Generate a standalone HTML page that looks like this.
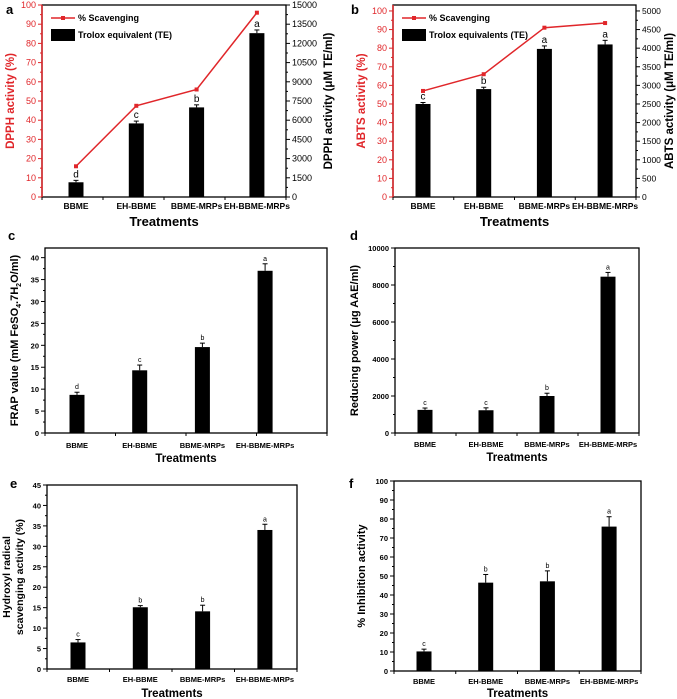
<!DOCTYPE html>
<html><head><meta charset="utf-8"><style>
html,body{margin:0;padding:0;background:#fff;}
svg{display:block;font-family:"Liberation Sans",Arial,sans-serif;}
</style></head><body>
<svg id="fig" width="677" height="699" viewBox="0 0 677 699" xmlns="http://www.w3.org/2000/svg"></svg>
<script>
const categories = ["BBME","EH-BBME","BBME-MRPs","EH-BBME-MRPs"];
// panel a
const aBars = [1150, 5750, 7000, 12800];
const aBarErr = [150, 180, 200, 250];
const aLine = [16, 47.5, 56, 96];
const aLetters = ["d","c","b","a"];
const aLeftTicks = [0,10,20,30,40,50,60,70,80,90,100];
const aRightTicks = [0,1500,3000,4500,6000,7500,9000,10500,12000,13500,15000];
// panel b
const bBars = [2500, 2900, 3980, 4100];
const bBarErr = [40, 50, 80, 110];
const bLine = [57, 66, 91, 93.5];
const bLetters = ["c","b","a","a"];
const bLeftTicks = [0,10,20,30,40,50,60,70,80,90,100];
const bRightTicks = [0,500,1000,1500,2000,2500,3000,3500,4000,4500,5000];
// panel c
const cBars = [8.7, 14.3, 19.6, 37];
const cErr = [0.6, 1.2, 0.9, 1.6];
const cLetters = ["d","c","b","a"];
const cTicks = [0,5,10,15,20,25,30,35,40];
// panel d
const dBars = [1250, 1230, 2000, 8450];
const dErr = [100, 130, 150, 230];
const dLetters = ["c","c","b","a"];
const dTicks = [0,2000,4000,6000,8000,10000];
// panel e
const eBars = [6.5, 15.1, 14.1, 34];
const eErr = [0.7, 0.4, 1.5, 1.4];
const eLetters = ["c","b","b","a"];
const eTicks = [0,5,10,15,20,25,30,35,40,45];
// panel f
const fBars = [10.3, 46.5, 47.2, 76];
const fErr = [1.2, 4.3, 5.5, 5.2];
const fLetters = ["c","b","b","a"];
const fTicks = [0,10,20,30,40,50,60,70,80,90,100];

const NS="http://www.w3.org/2000/svg";
const svg=document.getElementById('fig');
function mk(tag,attrs,parent){const e=document.createElementNS(NS,tag);for(const k in attrs)e.setAttribute(k,attrs[k]);(parent||svg).appendChild(e);return e;}
function txt(s,attrs,parent){const e=mk('text',attrs,parent);e.textContent=s;return e;}

function panel(p){
  const g=mk('g',{});
  
  
  const y=v=>p.y0-(v-p.min)/(p.max-p.min)*(p.y0-p.top);
  const yR=p.rmax?(v=>p.y0-v/p.rmax*(p.y0-p.top)):null;
  const x=i=>p.x0c+i*p.step;
  const fr=mk('rect',{x:p.left,y:p.top,width:p.right-p.left,height:p.y0-p.top,fill:'none',stroke:'#000','stroke-width':1.3},g);
  
  
  const lc=p.leftColor||'#000';
  if(p.leftColor){mk('line',{x1:p.left,y1:p.top,x2:p.left,y2:p.y0,stroke:lc,'stroke-width':1.5},g);}
  const ticks=p.ticks;
  ticks.forEach((t,k)=>{
    const yy=y(t);
    mk('line',{x1:p.left-4,y1:yy,x2:p.left,y2:yy,stroke:lc,'stroke-width':1},g);
    const tl=txt(String(t),{x:p.left-6,y:yy+3,'text-anchor':'end','font-size':p.tfs,'font-weight':p.tfw,fill:lc},g);
    
    
    if(k<ticks.length-1){const ym=y((t+ticks[k+1])/2);mk('line',{x1:p.left-2,y1:ym,x2:p.left,y2:ym,stroke:lc,'stroke-width':1},g);}
  });
  if(p.rticks){p.rticks.forEach((t,k)=>{
    const yy=yR(t);
    mk('line',{x1:p.right,y1:yy,x2:p.right+4,y2:yy,stroke:'#000','stroke-width':1},g);
    const tl=txt(String(t),{x:p.right+6,y:yy+3,'font-size':p.rtfs||p.tfs,fill:'#000'},g);
    
    
    if(k<p.rticks.length-1){const ym=yR((t+p.rticks[k+1])/2);mk('line',{x1:p.right,y1:ym,x2:p.right+2,y2:ym,stroke:'#000','stroke-width':1},g);}
  });}
  for(let i=0;i<=4;i++){const xx=p.left+(p.right-p.left)*i/4;mk('line',{x1:xx,y1:p.y0,x2:xx,y2:p.y0+3,stroke:'#000','stroke-width':1},g);}
  const bv=p.bars, sc=yR||y;
  categories.forEach((c,i)=>{
    const b=mk('rect',{x:x(i)-p.bw/2,y:sc(bv[i]),width:p.bw,height:p.y0-sc(bv[i]),fill:'#000'},g);
    
    
    const ye=sc(bv[i]+p.err[i]);
    mk('line',{x1:x(i),y1:sc(bv[i]),x2:x(i),y2:ye,stroke:'#000','stroke-width':1},g);
    mk('line',{x1:x(i)-2.5,y1:ye,x2:x(i)+2.5,y2:ye,stroke:'#000','stroke-width':1},g);
    const lt=txt(p.letters[i],{x:x(i),y:ye-3,'text-anchor':'middle','font-size':p.lfs,fill:'#000'},g);
    
    
    const xl=txt(c,{x:x(i),y:p.xly,'text-anchor':'middle','font-size':p.xfs,'font-weight':'bold'},g);
    
    
  });
  if(p.line){
    const pts=p.line.map((v,i)=>x(i)+','+y(v)).join(' ');
    const pl=mk('polyline',{points:pts,fill:'none',stroke:'#e0262a','stroke-width':1.5},g);
    
    
    p.line.forEach((v,i)=>{const m=mk('rect',{x:x(i)-2,y:y(v)-2,width:4,height:4,fill:'#e0262a'},g);
      
      });
    const lx=p.left+9;
    mk('line',{x1:lx,y1:18,x2:lx+24,y2:18,stroke:'#e0262a','stroke-width':1.5},g);
    mk('rect',{x:lx+10,y:16,width:4,height:4,fill:'#e0262a'},g);
    const l1=txt('% Scavenging',{x:lx+27,y:21,'font-size':9,'font-weight':'bold'},g);
    
    
    mk('rect',{x:lx,y:29,width:24,height:12,fill:'#000'},g);
    const l2=txt(p.legend2,{x:lx+27,y:38,'font-size':9,'font-weight':'bold'},g);
    
    
  }
  const xt=txt('Treatments',{x:(p.left+p.right)/2,y:p.xty,'text-anchor':'middle','font-size':p.xtfs,'font-weight':'bold'},g);
  
  
  const cy=(p.top+p.y0)/2;
  p.ytitle.forEach((ln,k)=>{
    const t=mk('text',{x:0,y:0,transform:`translate(${ln.x},${cy}) rotate(-90)`,'text-anchor':'middle','font-size':p.ytfs,'font-weight':'bold',fill:ln.color||'#000'},g);
    t.innerHTML=ln.html;
    
    
  });
  const pl=txt(p.id,{x:p.lab[0],y:p.lab[1],'font-size':13,'font-weight':'bold'},g);
  
  
}

panel({id:'a',left:42,right:286,top:5,y0:197,min:0,max:100,rmax:15000,ticks:aLeftTicks,rticks:aRightTicks,
  bars:aBars,err:aBarErr,letters:aLetters,line:aLine,legend2:'Trolox equivalent (TE)',leftColor:'#e0262a',
  x0c:76,step:60.3,bw:15,tfs:9,tfw:'normal',lfs:10,xfs:8.5,xly:209,xty:226,xtfs:13,ytfs:11.5,
  ytitle:[{x:14,html:'DPPH activity (%)',color:'#e0262a'},{x:332,html:'DPPH activity (μM TE/ml)'}],lab:[6,14]});
panel({id:'b',left:393,right:636,top:5,y0:197,min:0,max:103.2,rmax:5160,ticks:bLeftTicks,rticks:bRightTicks,
  bars:bBars,err:bBarErr,letters:bLetters,line:bLine,legend2:'Trolox equivalents (TE)',leftColor:'#e0262a',
  x0c:423,step:60.7,bw:15,tfs:9,rtfs:8.5,tfw:'normal',lfs:10,xfs:8.5,xly:209,xty:226,xtfs:13,ytfs:11.5,
  ytitle:[{x:365,html:'ABTS activity (%)',color:'#e0262a'},{x:673,html:'ABTS activity (μM TE/ml)'}],lab:[351,14]});
panel({id:'c',left:45,right:327,top:248,y0:433,min:0,max:42.2,ticks:cTicks,
  bars:cBars,err:cErr,letters:cLetters,x0c:77,step:62.7,bw:15,tfs:7.5,tfw:'bold',lfs:7,xfs:7.5,xly:448,xty:462,xtfs:11.5,ytfs:11,
  ytitle:[{x:18,html:'FRAP value (mM FeSO<tspan font-size="7" dy="3">4</tspan><tspan dy="-3">.7H</tspan><tspan font-size="7" dy="3">2</tspan><tspan dy="-3">O/ml)</tspan>'}],lab:[8,240]});
panel({id:'d',left:395,right:639,top:248,y0:433,min:0,max:10000,ticks:dTicks,
  bars:dBars,err:dErr,letters:dLetters,x0c:425,step:61,bw:15,tfs:7.5,tfw:'bold',lfs:7,xfs:7.5,xly:447,xty:461,xtfs:11.5,ytfs:11,
  ytitle:[{x:358,html:'Reducing power (μg AAE/ml)'}],lab:[350,240]});
panel({id:'e',left:47,right:297,top:485,y0:669,min:0,max:45,ticks:eTicks,
  bars:eBars,err:eErr,letters:eLetters,x0c:78,step:62.3,bw:15,tfs:7.5,tfw:'bold',lfs:7,xfs:7.5,xly:682,xty:697,xtfs:11.5,ytfs:10.5,
  ytitle:[{x:10,html:'Hydroxyl radical'},{x:23,html:'scavenging activity (%)'}],lab:[10,488]});
panel({id:'f',left:394,right:641,top:481,y0:671,min:0,max:100,ticks:fTicks,
  bars:fBars,err:fErr,letters:fLetters,x0c:424,step:61.7,bw:15,tfs:7.5,tfw:'bold',lfs:7,xfs:7.5,xly:684,xty:697,xtfs:11.5,ytfs:11,
  ytitle:[{x:365,html:'% Inhibition activity'}],lab:[349,488]});
</script>
</body></html>
